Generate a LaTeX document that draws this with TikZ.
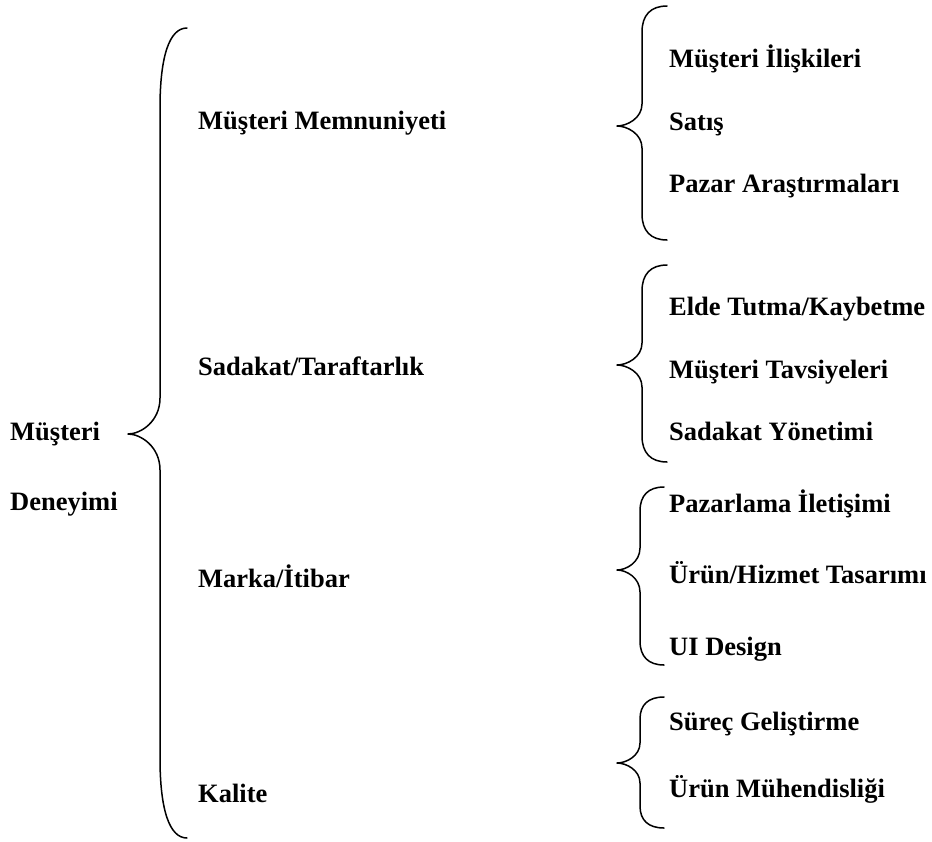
\documentclass[tikz,border=0pt]{standalone}
\usepackage{fontspec}
\setmainfont{Liberation Serif}
\begin{document}
\tikzset{
  label/.style={anchor=base west, inner sep=0pt, font=\bfseries\fontsize{26.5}{30}\selectfont},
  curlybrace/.style={line width=1.5pt, line cap=round, line join=round}
}
% \curlybrace{x tip}{x bar}{x end}{y top}{y tip}{y bottom}{end radius}{tip radius}
\newcommand\curlybrace[8]{%
  \draw[curlybrace] ({#3},{#4})
    .. controls ({#2+0.35*(#3-#2)},{#4}) and ({#2},{#4+0.35*#7}) .. ({#2},{#4+#7})
    -- ({#2},{#5-#8})
    .. controls ({#2},{#5-0.35*#8}) and ({#1+0.4*(#2-#1)},{#5}) .. ({#1},{#5})
    .. controls ({#1+0.4*(#2-#1)},{#5}) and ({#2},{#5+0.35*#8}) .. ({#2},{#5+#8})
    -- ({#2},{#6-#7})
    .. controls ({#2},{#6-0.35*#7}) and ({#2+0.35*(#3-#2)},{#6}) .. ({#3},{#6});
}
\begin{tikzpicture}[x=1pt, y=-1pt]
\useasboundingbox (0,0) rectangle (932,841);

% root
\node[label] (m1) at (10,440) {Müşteri};
\node[label] (m2) at (10,510) {Deneyimi};

% main brace
\curlybrace{128}{160}{187}{28}{434}{838}{80}{36}

% second level
\node[label] (a) at (198,129) {Müşteri Memnuniyeti};
\node[label] (b) at (198,375) {Sadakat/Taraftarlık};
\node[label] (c) at (198,587) {Marka/İtibar};
\node[label] (d) at (198,802) {Kalite};

% sub braces
\curlybrace{617}{642}{667}{6}{126}{240}{26}{22}
\curlybrace{617}{642}{667}{265}{365}{462}{26}{22}
\curlybrace{617}{640}{664}{487}{570}{665}{24}{22}
\curlybrace{617}{640}{664}{697}{763}{828}{22}{20}

% third level
\node[label] (a1) at (669,67) {Müşteri İlişkileri};
\node[label] (a2) at (669,130) {Satış};
\node[label] (a3) at (669,192) {Pazar Araştırmaları};

\node[label] (b1) at (669,315) {Elde Tutma/Kaybetme};
\node[label] (b2) at (669,378) {Müşteri Tavsiyeleri};
\node[label] (b3) at (669,440) {Sadakat Yönetimi};

\node[label] (c1) at (669,512) {Pazarlama İletişimi};
\node[label] (c2) at (669,583) {Ürün/Hizmet Tasarımı};
\node[label] (c3) at (669,655) {UI Design};

\node[label] (d1) at (669,730) {Süreç Geliştirme};
\node[label] (d2) at (669,797) {Ürün Mühendisliği};
\end{tikzpicture}
\end{document}
